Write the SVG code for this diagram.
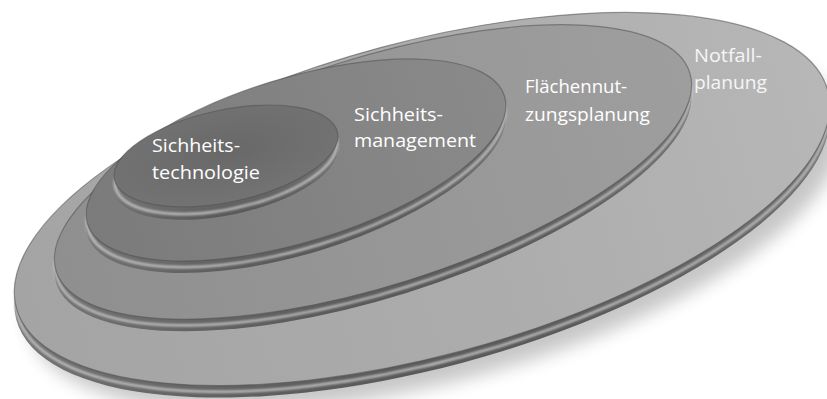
<svg xmlns="http://www.w3.org/2000/svg" width="827" height="399" viewBox="0 0 827 399">
  <style>
    .lbl { font-family: "Open Sans", "Liberation Sans", sans-serif; font-size: 19px; fill: #ffffff; }
    .lbl4 { fill: #f6f6f6; }
    .hl { fill: none; stroke: #dcdcdc; stroke-width: 2.4; stroke-opacity: 0.8; }
    .edge { fill: none; stroke: #4e4e4e; stroke-width: 1.2; stroke-opacity: 0.55; }
    .gloss { fill: none; stroke: #ffffff; stroke-width: 1; stroke-opacity: 0.3; }
  </style>
  <defs>
    <filter id="blur" x="-20%" y="-20%" width="140%" height="140%">
      <feGaussianBlur stdDeviation="9"/>
    </filter>
    <filter id="soft" x="-5%" y="-5%" width="110%" height="110%">
      <feGaussianBlur stdDeviation="0.8"/>
    </filter>
    <linearGradient id="f4" x1="0" y1="0" x2="1" y2="0">
      <stop offset="0" stop-color="#a4a4a4"/>
      <stop offset="0.6" stop-color="#adadad"/>
      <stop offset="1" stop-color="#b7b7b7"/>
    </linearGradient>
    <linearGradient id="f3" x1="0" y1="0" x2="1" y2="0">
      <stop offset="0" stop-color="#8f8f8f"/>
      <stop offset="1" stop-color="#9e9e9e"/>
    </linearGradient>
    <linearGradient id="f2" x1="0" y1="0" x2="1" y2="0">
      <stop offset="0" stop-color="#7b7b7b"/>
      <stop offset="1" stop-color="#8a8a8a"/>
    </linearGradient>
    <radialGradient id="f1" cx="0.5" cy="0.45" r="0.6">
      <stop offset="0" stop-color="#686868"/>
      <stop offset="1" stop-color="#747474"/>
    </radialGradient>
    <linearGradient id="r" x1="0" y1="0" x2="0" y2="1">
      <stop offset="0" stop-color="#8a8a8a"/>
      <stop offset="0.8" stop-color="#6a6a6a"/>
      <stop offset="1" stop-color="#595959"/>
    </linearGradient>
  </defs>

  <ellipse cx="436" cy="224" rx="420" ry="157" transform="rotate(-15 436 224)" fill="#000" opacity="0.22" filter="url(#blur)"/>

  <g id="notfallplanung">
    <ellipse fill="url(#r)" cx="422" cy="211" rx="420" ry="157" transform="rotate(-15 422 211)"/>
    <ellipse class="hl" filter="url(#soft)" cx="422" cy="206" rx="419" ry="156" transform="rotate(-15 422 206)"/>
    <ellipse fill="url(#f4)" cx="422" cy="199" rx="420" ry="157" transform="rotate(-15 422 199)"/>
    <ellipse class="edge" cx="422" cy="199" rx="420" ry="157" transform="rotate(-15 422 199)"/>
    <text class="lbl lbl4" x="694" y="62" textLength="68" lengthAdjust="spacingAndGlyphs">Notfall-</text>
    <text class="lbl lbl4" x="694" y="89" textLength="73" lengthAdjust="spacingAndGlyphs">planung</text>
  </g>

  <g id="flaechennutzungsplanung">
    <ellipse fill="url(#r)" cx="373" cy="184" rx="332" ry="114" transform="rotate(-17.4 373 184)"/>
    <ellipse class="hl" filter="url(#soft)" cx="373" cy="179" rx="331" ry="113" transform="rotate(-17.4 373 179)"/>
    <ellipse fill="url(#f3)" cx="373" cy="172" rx="332" ry="114" transform="rotate(-17.4 373 172)"/>
    <ellipse class="edge" cx="373" cy="172" rx="332" ry="114" transform="rotate(-17.4 373 172)"/>
    <text class="lbl" x="525" y="93" textLength="102" lengthAdjust="spacingAndGlyphs">Flächennut-</text>
    <text class="lbl" x="525" y="121" textLength="125" lengthAdjust="spacingAndGlyphs">zungsplanung</text>
  </g>

  <g id="sicherheitsmanagement">
    <ellipse fill="url(#r)" cx="296" cy="172" rx="218" ry="82" transform="rotate(-17 296 172)"/>
    <ellipse class="hl" filter="url(#soft)" cx="296" cy="167" rx="217" ry="81" transform="rotate(-17 296 167)"/>
    <ellipse fill="url(#f2)" cx="296" cy="160" rx="218" ry="82" transform="rotate(-17 296 160)"/>
    <ellipse class="edge" cx="296" cy="160" rx="218" ry="82" transform="rotate(-17 296 160)"/>
    <text class="lbl" x="354" y="121" textLength="89" lengthAdjust="spacingAndGlyphs">Sichheits-</text>
    <text class="lbl" x="354" y="147" textLength="122" lengthAdjust="spacingAndGlyphs">management</text>
  </g>

  <g id="sicherheitstechnologie">
    <ellipse fill="url(#r)" cx="226" cy="169" rx="114" ry="46" transform="rotate(-12 226 169)"/>
    <ellipse class="hl" filter="url(#soft)" cx="226" cy="164" rx="113" ry="45" transform="rotate(-12 226 164)"/>
    <ellipse fill="url(#f1)" cx="226" cy="156" rx="114" ry="46" transform="rotate(-12 226 156)"/>
    <ellipse class="edge" cx="226" cy="156" rx="114" ry="46" transform="rotate(-12 226 156)"/>
    <text class="lbl" x="152" y="152" textLength="88" lengthAdjust="spacingAndGlyphs">Sichheits-</text>
    <text class="lbl" x="152" y="179" textLength="108" lengthAdjust="spacingAndGlyphs">technologie</text>
  </g>
</svg>
